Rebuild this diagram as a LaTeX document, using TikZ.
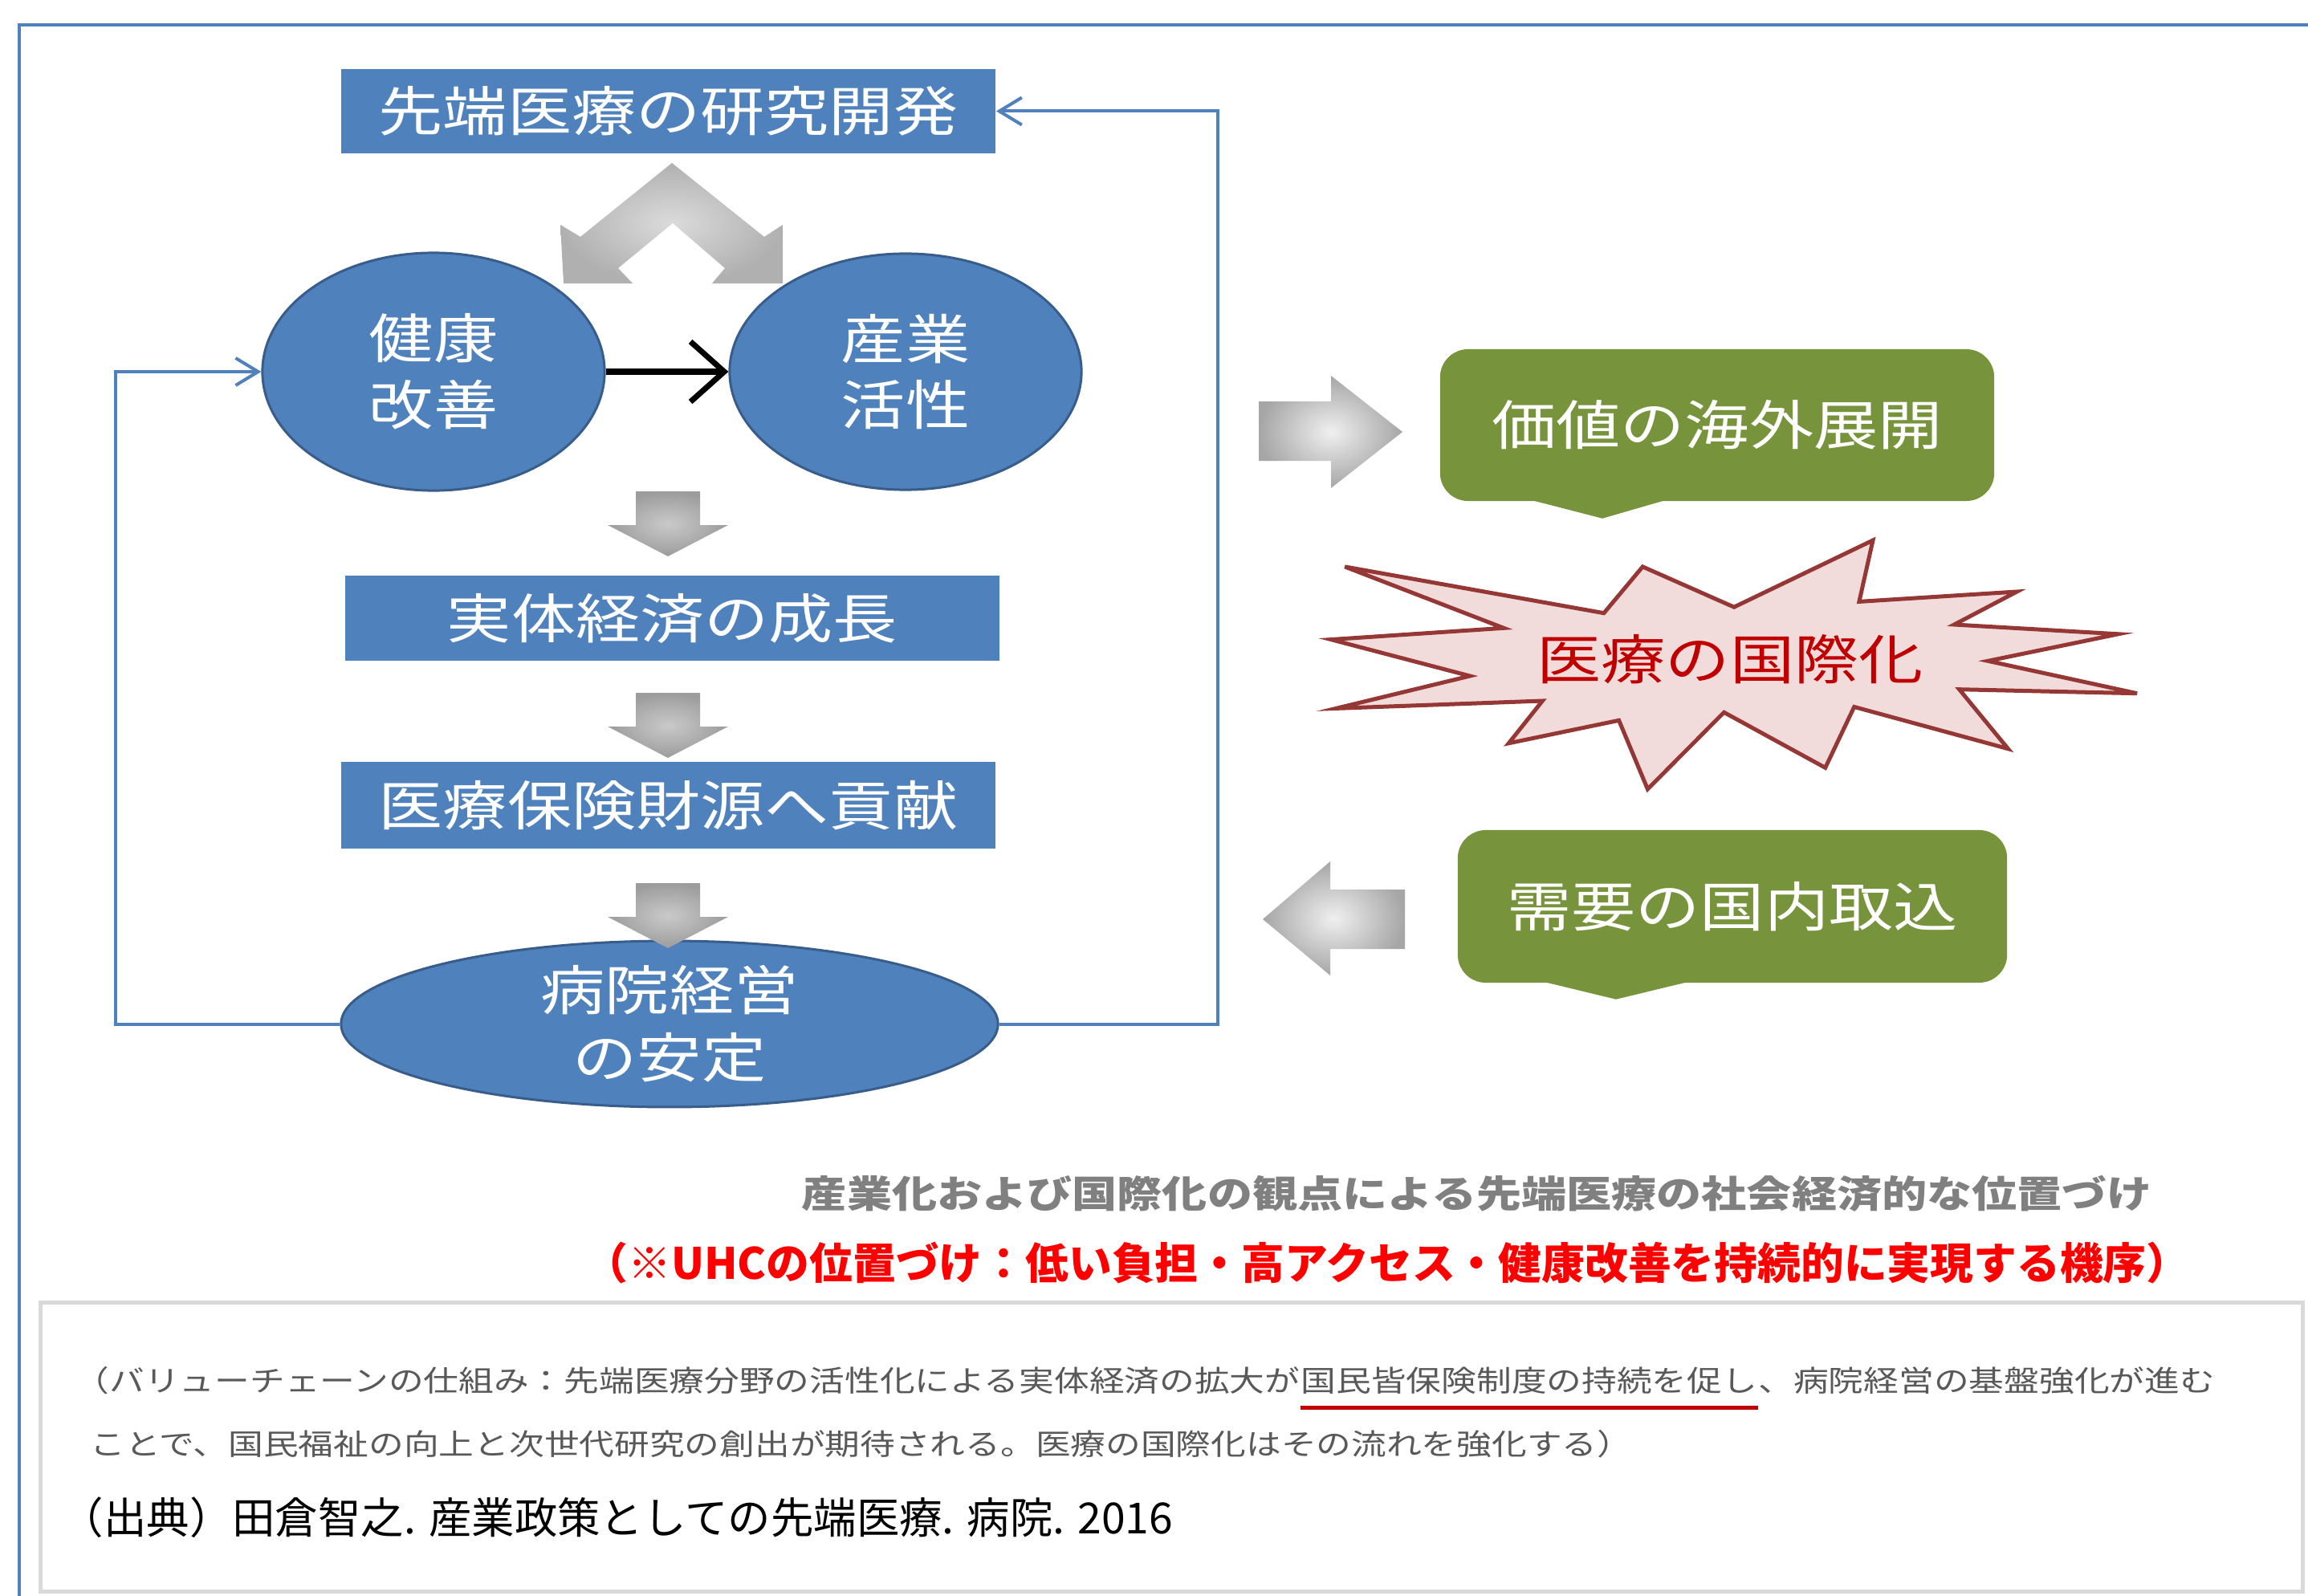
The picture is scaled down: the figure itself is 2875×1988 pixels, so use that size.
\documentclass[tikz,border=0pt]{standalone}
\usepackage{fontspec}
\usetikzlibrary{shapes.geometric,arrows.meta,calc}
\newfontfamily\jp{Noto Sans CJK JP}
\newfontfamily\jpw[FakeStretch=1.2]{Noto Sans CJK JP}
\definecolor{oblue}{HTML}{4F81BD}
\definecolor{oblued}{HTML}{385D8A}
\definecolor{ogreen}{HTML}{77933C}
\definecolor{burstfill}{HTML}{F2DCDB}
\definecolor{burstline}{HTML}{953735}
\definecolor{bursttext}{HTML}{C00000}
\definecolor{capgray}{HTML}{808080}
\definecolor{boxtext}{HTML}{595959}
\definecolor{boxline}{HTML}{D9D9D9}
\definecolor{ulred}{HTML}{C00000}
\newcommand\dgfont{\jpw\fontsize{19pt}{23.5pt}\selectfont}
\newcommand\downblock[2]{%
  \shade[downarr] (#1-40,#2) -- (#1+40,#2) -- (#1+40,#2+42) -- (#1+75,#2+42)
    -- (#1,#2+81) -- (#1-75,#2+42) -- (#1-40,#2+42) -- cycle;}
\begin{document}
\begin{tikzpicture}[x=0.01cm,y=-0.01cm,
  bluebox/.style={rectangle, fill=oblue, inner sep=0, text=white, font=\dgfont},
  blueell/.style={ellipse, fill=oblue, draw=oblued, line width=0.03cm, inner sep=0,
    text=white, align=center, font=\dgfont},
  greenbox/.style={rectangle, rounded corners=0.35cm, fill=ogreen, inner sep=0,
    text=white, font=\dgfont},
  chev/.style={inner color=gray!28, outer color=gray!62},
  downarr/.style={inner color=gray!42, outer color=gray!78},
  sidearr/.style={inner color=gray!12, outer color=gray!70},
  fb/.style={draw=oblue, line width=0.04cm, -{Straight Barb[length=0.28cm,width=0.34cm]}},
  notefont/.style={font=\jpw\fontsize{10.36pt}{12pt}\selectfont, text=boxtext, inner sep=0, anchor=west}
]
\useasboundingbox (0,0) rectangle (2875,1988);
\fill[white] (0,0) rectangle (2875,1988);
% outer frame
\draw[oblue, line width=0.04cm] (2875,31) -- (24,31) -- (24,1988);

% chevron
\shade[chev] (837,203) -- (952,295) -- (975,280) -- (975,353) -- (887,353) -- (903,334)
  -- (838,278) -- (770,334) -- (788,353) -- (702,353) -- (698,280) -- (723,295) -- cycle;

% main nodes
\node[bluebox, minimum width=8.15cm, minimum height=1.05cm] (top) at (832.5,138.5) {先端医療の研究開発};
\node[blueell, minimum width=4.26cm, minimum height=2.96cm] (lc) at (540,463) {健康\\改善};
\node[blueell, minimum width=4.38cm, minimum height=2.94cm] (rc) at (1128,463) {産業\\活性};
\node[bluebox, minimum width=8.15cm, minimum height=1.06cm] (econ) at (837.5,770) {実体経済の成長};
\node[bluebox, minimum width=8.15cm, minimum height=1.08cm] (fund) at (832.5,1003) {医療保険財源へ貢献};
\node[blueell, minimum width=8.18cm, minimum height=1.93cm,
  font=\jpw\fontsize{19pt}{24pt}\selectfont] (hosp) at (834,1275.5) {病院経営\\の安定};

% block arrows down
\downblock{832}{612}
\downblock{832}{863}
\downblock{832}{1100}

% black arrow
\draw[black, line width=0.07cm, -{Straight Barb[length=0.42cm,width=0.75cm]}] (lc.east) -- (rc.west);

% feedback lines
\draw[fb] (hosp.west) -- ++(-279,0) |- (lc.west);
\draw[fb] (hosp.east) -- ++(272,0) |- (top.east);

% right side
\shade[sidearr] (1568,500) -- (1658,500) -- (1658,468) -- (1747,538) -- (1658,608)
  -- (1658,574) -- (1568,574) -- cycle;
\shade[sidearr] (1750,1108) -- (1657,1108) -- (1657,1073) -- (1573,1145) -- (1657,1215)
  -- (1657,1182) -- (1750,1182) -- cycle;

\node[greenbox, minimum width=6.9cm, minimum height=1.89cm] (g1) at (2139,529.5) {価値の海外展開};
\fill[ogreen] ($(g1.south)+(-236,-3)$) -- ($(g1.south)+(-143,21)$) -- ($(g1.south)+(-60,-3)$) -- cycle;
\node[greenbox, minimum width=6.84cm, minimum height=1.90cm] (g2) at (2158,1129) {需要の国内取込};
\fill[ogreen] ($(g2.south)+(-240,-3)$) -- ($(g2.south)+(-145,20)$) -- ($(g2.south)+(-50,-3)$) -- cycle;

% starburst
\draw[burstline, fill=burstfill, line width=0.05cm, line join=miter]
  (2160.0,756.2) -- (2333.0,673.0) -- (2315.9,749.4) -- (2512.3,737.0) -- (2434.3,778.0)
  -- (2638.6,789.8) -- (2476.4,823.3) -- (2662.0,863.7) -- (2440.6,858.7) -- (2501.4,932.7)
  -- (2309.7,880.5) -- (2273.7,956.3) -- (2147.5,887.3) -- (2052.4,983.0) -- (2016.6,897.3)
  -- (1879.3,925.8) -- (1921.4,873.0) -- (1664.3,882.4) -- (1831.0,842.0) -- (1658.0,796.6)
  -- (1873.1,782.3) -- (1675.2,705.9) -- (1997.9,763.7) -- (2046.2,705.9) -- cycle;
\node[font=\dgfont, text=bursttext, inner sep=0] (intl) at (2155,821) {医療の国際化};

% captions
\node[font=\jpw\bfseries\fontsize{13.3pt}{16pt}\selectfont, text=capgray, inner sep=0] (cap)
  at (1840,1487) {産業化および国際化の観点による先端医療の社会経済的な位置づけ};
\node[font=\jp\bfseries\fontsize{15.3pt}{18pt}\selectfont, text=red, inner sep=0] (uhc)
  at (1728,1573) {（※UHCの位置づけ：低い負担・高アクセス・健康改善を持続的に実現する機序）};

% note box
\node[draw=boxline, line width=0.05cm, minimum width=28.17cm, minimum height=3.59cm, inner sep=0]
  (notebox) at (1459.5,1802.5) {};
\node[notefont] (l1a) at (92,1720) {（バリューチェーンの仕組み：先端医療分野の活性化による実体経済の拡大が};
\node[notefont] (l1b) at (l1a.east) {国民皆保険制度の持続を促し};
\node[notefont] (l1c) at (l1b.east) {、病院経営の基盤強化が進む};
\draw[ulred, line width=0.05cm] ($(l1b.west)+(0,33)$) -- ($(l1b.east)+(0,33)$);
\node[notefont] (l2) at (112,1799) {ことで、国民福祉の向上と次世代研究の創出が期待される。医療の国際化はその流れを強化する）};
\node[font=\jp\fontsize{15.2pt}{18pt}\selectfont, text=black, inner sep=0, anchor=west] (src)
  at (75,1890) {（出典）田倉智之. 産業政策としての先端医療. 病院. 2016};
\end{tikzpicture}
\end{document}
